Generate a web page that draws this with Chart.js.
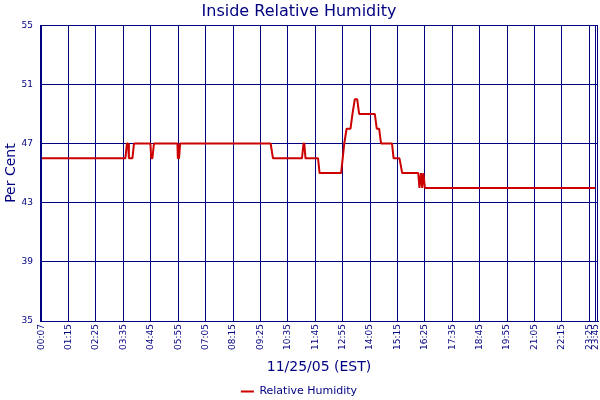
<!DOCTYPE html>
<html>
<head>
<meta charset="utf-8">
<title>Inside Relative Humidity</title>
<script src="https://cdn.jsdelivr.net/npm/chart.js@4.4.1/dist/chart.umd.min.js"></script>
<style>
  html, body { margin: 0; padding: 0; background: #fff; }
</style>
</head>
<body>
<canvas id="myChart" width="600" height="400"></canvas>
<script>
'use strict';
// время отсчёта, минуты от полуночи
const sampleMinutes = [7, 220, 224, 227, 229, 238, 242, 284, 286, 289, 293, 353, 354, 357, 360,
  591, 597, 671, 675, 677, 680, 712, 716, 771, 775, 779, 785, 795, 800, 806, 812, 817,
  857, 862, 868, 873, 901, 905, 920, 927, 968, 971, 975, 978, 981, 985, 1420];
// влажность, %
const humidity = [46, 46, 47, 47, 46, 46, 47, 47, 46, 46, 47, 47, 46, 46, 47,
  47, 46, 46, 47, 47, 46, 46, 45, 45, 46, 47, 48, 48, 49, 50, 50, 49,
  49, 48, 48, 47, 47, 46, 46, 45, 45, 44, 45, 44, 45, 44, 44];
// подписи оси времени
const tickMinutes = [7, 75, 145, 215, 285, 355, 425, 495, 565, 635, 705, 775, 845, 915,
  985, 1055, 1125, 1195, 1265, 1335, 1405, 1420];
const tickLabels = ['00:07', '01:15', '02:25', '03:35', '04:45', '05:55', '07:05', '08:15',
  '09:25', '10:35', '11:45', '12:55', '14:05', '15:15', '16:25', '17:35', '18:45', '19:55',
  '21:05', '22:15', '23:25', '23:45'];

const navy = '#000080';
const red = '#cc0000';
const family = '"DejaVu Sans", Verdana, sans-serif';

// рамка вокруг области графика
const framePlugin = {
  id: 'frame',
  beforeDatasetsDraw(chart) {
    const a = chart.chartArea;
    const ctx = chart.ctx;
    ctx.save();
    ctx.strokeStyle = navy;
    ctx.lineWidth = 1;
    ctx.strokeRect(Math.round(a.left) + 0.5, Math.round(a.top) + 0.5,
      Math.round(a.right - a.left) - 1, Math.round(a.bottom - a.top));
    ctx.restore();
  }
};

const humidityChart = () => {
  const ctx = document.getElementById('myChart').getContext('2d');

  const chart = new Chart(ctx, {
    type: 'line',
    data: {
      datasets: [{
        label: 'Relative Humidity',
        data: sampleMinutes.map((m, i) => ({x: m, y: humidity[i]})),
        borderColor: red,
        backgroundColor: red,
        borderWidth: 2,
        borderJoinStyle: 'bevel',
        pointRadius: 0,
        tension: 0,
        fill: false
      }]
    },
    options: {
      responsive: false,
      animation: false,
      events: [],
      layout: {
        autoPadding: false,
        padding: {left: 0, right: 2, top: 0, bottom: -7}
      },
      plugins: {
        title: {
          display: true,
          text: 'Inside Relative Humidity',
          color: navy,
          font: {family: family, size: 16, weight: 'normal'},
          padding: {top: 2, bottom: 4}
        },
        legend: {
          position: 'bottom',
          labels: {
            color: navy,
            boxWidth: 13,
            boxHeight: 0,
            padding: 4,
            font: {family: family, size: 11}
          }
        },
        tooltip: {enabled: false}
      },
      scales: {
        x: {
          type: 'linear',
          min: 2,
          max: 1427,
          afterBuildTicks: (scale) => {
            scale.ticks = tickMinutes.map(v => ({value: v}));
          },
          afterFit: (scale) => {
            scale.height = 61;
            scale.paddingLeft = 0;
            scale.paddingRight = 0;
          },
          ticks: {
            autoSkip: false,
            minRotation: 90,
            maxRotation: 90,
            padding: 3,
            color: navy,
            font: {family: family, size: 9},
            callback: (v, i) => tickLabels[i]
          },
          grid: {color: navy, drawTicks: false},
          border: {color: navy},
          title: {
            display: true,
            text: '11/25/05 (EST)',
            color: navy,
            font: {family: family, size: 14},
            padding: {top: 0, bottom: 6}
          }
        },
        y: {
          min: 35,
          max: 55,
          afterFit: (scale) => {
            scale.width = 40;
            scale.paddingTop = 0;
            scale.paddingBottom = 0;
          },
          ticks: {
            stepSize: 4,
            padding: 7,
            color: navy,
            font: {family: family, size: 9}
          },
          grid: {color: navy, drawTicks: false},
          border: {color: navy},
          title: {
            display: true,
            text: 'Per Cent',
            color: navy,
            font: {family: family, size: 14},
            padding: {top: 3, bottom: 0}
          }
        }
      }
    },
    plugins: [framePlugin]
  });
  return chart;
};
humidityChart();
</script>
</body>
</html>
